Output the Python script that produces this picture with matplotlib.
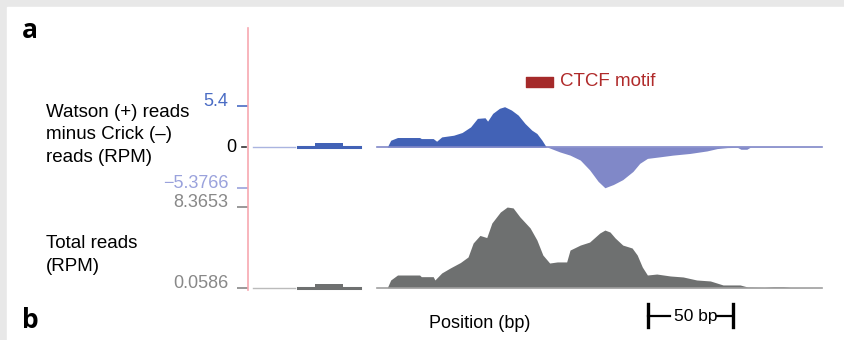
import numpy as np
import matplotlib
matplotlib.use("Agg")
import matplotlib.pyplot as plt
from matplotlib.lines import Line2D
from matplotlib.transforms import blended_transform_factory

plt.rcParams['font.family'] = ['Liberation Sans', 'DejaVu Sans']

# Watson minus Crick (RPM), positions in bp
strand_pos = [73, 79, 81, 85, 98, 99, 106, 108, 111, 118, 123, 128, 132, 136.5, 138, 141, 145, 148, 152, 156,
              160, 164, 167, 170, 172.5, 173, 180.5, 186.5, 192.5, 198, 203, 207, 212, 217.5, 223.5, 227.5, 232,
              239.5, 247, 257, 267, 273, 279, 285, 287, 290.5, 292.5, 335]
strand_rpm = [0, 0, 0.89, 1.25, 1.25, 1.11, 1.11, 0.76, 1.33, 1.55, 1.91, 2.65, 3.77, 3.85, 3.41, 4.43, 5.10, 5.31, 4.87, 4.20,
              3.10, 2.22, 1.78, 0.89, 0, 0, -0.65, -1.07, -1.72, -3.01, -4.52, -5.37, -4.94, -4.30, -3.22, -2.15, -1.50,
              -1.29, -1.07, -0.85, -0.52, -0.21, -0.08, -0.05, -0.30, -0.30, -0.03, 0]

# total reads (RPM)
total_pos = [73, 79, 81, 85, 98, 99, 106, 107, 111, 116, 122, 126.5, 129.5, 133.5, 137.5, 140.5, 145.5, 149.5, 153, 157,
             163, 167, 170.5, 174.5, 179, 184.5, 186.5, 192.5, 198, 204, 207, 210, 213, 217.5, 223, 226, 229, 232,
             237.5, 245.5, 253, 261, 269, 276.5, 286.5, 291, 301, 306, 312, 316, 335]
total_rpm = [0.06, 0.06, 0.85, 1.36, 1.36, 1.19, 1.19, 0.85, 1.57, 2.08, 2.64, 3.21, 4.64, 5.42, 5.20, 6.69, 7.82, 8.33, 8.24, 7.32,
             6.19, 4.95, 3.41, 2.59, 2.70, 2.70, 3.92, 4.43, 4.74, 5.67, 5.97, 5.77, 5.16, 4.43, 4.13, 3.41, 2.18, 1.36,
             1.46, 1.26, 1.16, 0.85, 0.75, 0.34, 0.34, 0.13, 0.08, 0.16, 0.16, 0.08, 0.06]

# small upstream block (bp) and its height
block_seg = (26.5, 63)
block_bump = (36.5, 53)
block_strand = 0.5
block_total = 0.47
empty_seg = (0, 25)

strand_max, strand_min = 5.4, -5.3766
total_max, total_min = 8.3653, 0.0586
motif = (160.5, 176.5) # CTCF motif, bp
scale_bp = (232.5, 282.5) # 50 bp scale bar

W, H = 844, 340
fig = plt.figure(figsize=(W/100, H/100), dpi=100, facecolor="#e8e8e8")
fig.patches.append(plt.Rectangle((7/W, 0), 1, 1-7/H, transform=fig.transFigure, color="white", zorder=-1))

blue = "#4262b6"
lblue = "#8088c8"
gray = "#6e7070"

ax1 = fig.add_axes([248/W, 1-192/H, 582/W, 132/H]) # верхний трек
ax2 = fig.add_axes([248/W, 1-292/H, 582/W, 92/H], sharex=ax1) # нижний трек
ax1.set_xlim(-5/1.7, 582/1.7 - 5/1.7)
ax1.set_ylim(-(192-147)/7.59, (147-60)/7.59)
ax2.set_ylim(total_min - 4.3/9.75, total_max + 6.7/9.75)

# top track
sp = np.array(strand_pos)
sv = np.array(strand_rpm)
ax1.fill_between(sp, 0, np.clip(sv, 0, None), color=blue, lw=0)
ax1.fill_between(sp, 0, np.clip(sv, None, 0), color=lblue, lw=0)
ax1.plot([sp[0], sp[-1]], [0, 0], color=lblue, lw=1.2)
ax1.plot(empty_seg, [0, 0], color="#aab4e0", lw=1)
ax1.plot(block_seg, [0, 0], color=blue, lw=2.2)
ax1.fill_between(block_bump, 0, block_strand, color=blue, lw=0)

# bottom track
tp = np.array(total_pos)
tv = np.array(total_rpm)
ax2.fill_between(tp, total_min, tv, color=gray, lw=0)
ax2.plot([tp[0], tp[-1]], [total_min, total_min], color="#a0a0a0", lw=1.2)
ax2.plot(empty_seg, [total_min, total_min], color="#bbbbbb", lw=1)
ax2.plot(block_seg, [total_min, total_min], color=gray, lw=2.2)
ax2.fill_between(block_bump, total_min, block_total, color=gray, lw=0)

for ax in (ax1, ax2):
    for s in ax.spines.values():
        s.set_visible(False)
    ax.set_xticks([])
    ax.set_facecolor("none")
    ax.tick_params(axis="y", length=8, width=1.2, pad=6, labelsize=13)

ax1.set_yticks([strand_min, strand_max], ["\u22125.3766", "5.4"])
ax2.set_yticks([total_min, total_max], ["0.0586", "8.3653"])
for ax, cols in ((ax1, ["#9aa2dc", "#4a6cc4"]), (ax2, ["#888888", "#888888"])):
    for t, c in zip(ax.yaxis.get_major_ticks(), cols):
        t.tick1line.set_markeredgecolor(c) # цвет засечки
        t.label1.set_color(c)
        t.label1.set_verticalalignment("baseline")

# zero label with short dash
ztr = blended_transform_factory(fig.transFigure, ax1.transData)
fig.text(236/W, 0, "0", ha="right", va="center", fontsize=13, transform=ztr)
ax1.plot([242.5/W, 246.5/W], [0, 0], color="#333333", lw=1.2, transform=ztr, clip_on=False)

# pink axis line
fig.add_artist(Line2D([248/W, 248/W], [1-28/H, 1-290/H], color="#f7a8b0", lw=1.2))

# motif
ax1.broken_barh([(motif[0], motif[1]-motif[0])], (7.9, 1.3), color="#a52a2a", clip_on=False)
ax1.text(motif[1] + 4, 8.6, "CTCF motif", color="#b02a2a", fontsize=13.5, va="center")

fig.text(46/W, 1-135/H, "Watson (+) reads\nminus Crick (\u2013)\nreads (RPM)", fontsize=13.5, va="center", ha="left", linespacing=1.4)
fig.text(46/W, 1-255/H, "Total reads\n(RPM)", fontsize=13.5, va="center", ha="left", linespacing=1.4)
fig.text(22/W, 1-31/H, "a", fontsize=19, fontweight="bold", va="center", ha="left", family="Open Sans")
fig.text(22/W, 1-321/H, "b", fontsize=19, fontweight="bold", va="center", ha="left", family="Open Sans")
fig.text(480/W, 1-324/H, "Position (bp)", fontsize=13, va="center", ha="center")

# scale bar
tr = blended_transform_factory(ax2.transData, fig.transFigure)
yb = 1-316/H
ax2.plot([scale_bp[0], scale_bp[0]], [1-304/H, 1-327/H], color="black", lw=2.4, transform=tr, clip_on=False)
ax2.plot([scale_bp[1], scale_bp[1]], [1-304/H, 1-327/H], color="black", lw=2.4, transform=tr, clip_on=False)
ax2.plot([scale_bp[0], scale_bp[0] + 13], [yb, yb], color="black", lw=1.6, transform=tr, clip_on=False)
ax2.plot([scale_bp[1] - 9.5, scale_bp[1]], [yb, yb], color="black", lw=1.6, transform=tr, clip_on=False)
ax2.text(scale_bp[0] + 28, yb, "50 bp", fontsize=12.5, ha="center", va="center", transform=tr)

plt.savefig("out.png", dpi=100, facecolor=fig.get_facecolor())
plt.close()
